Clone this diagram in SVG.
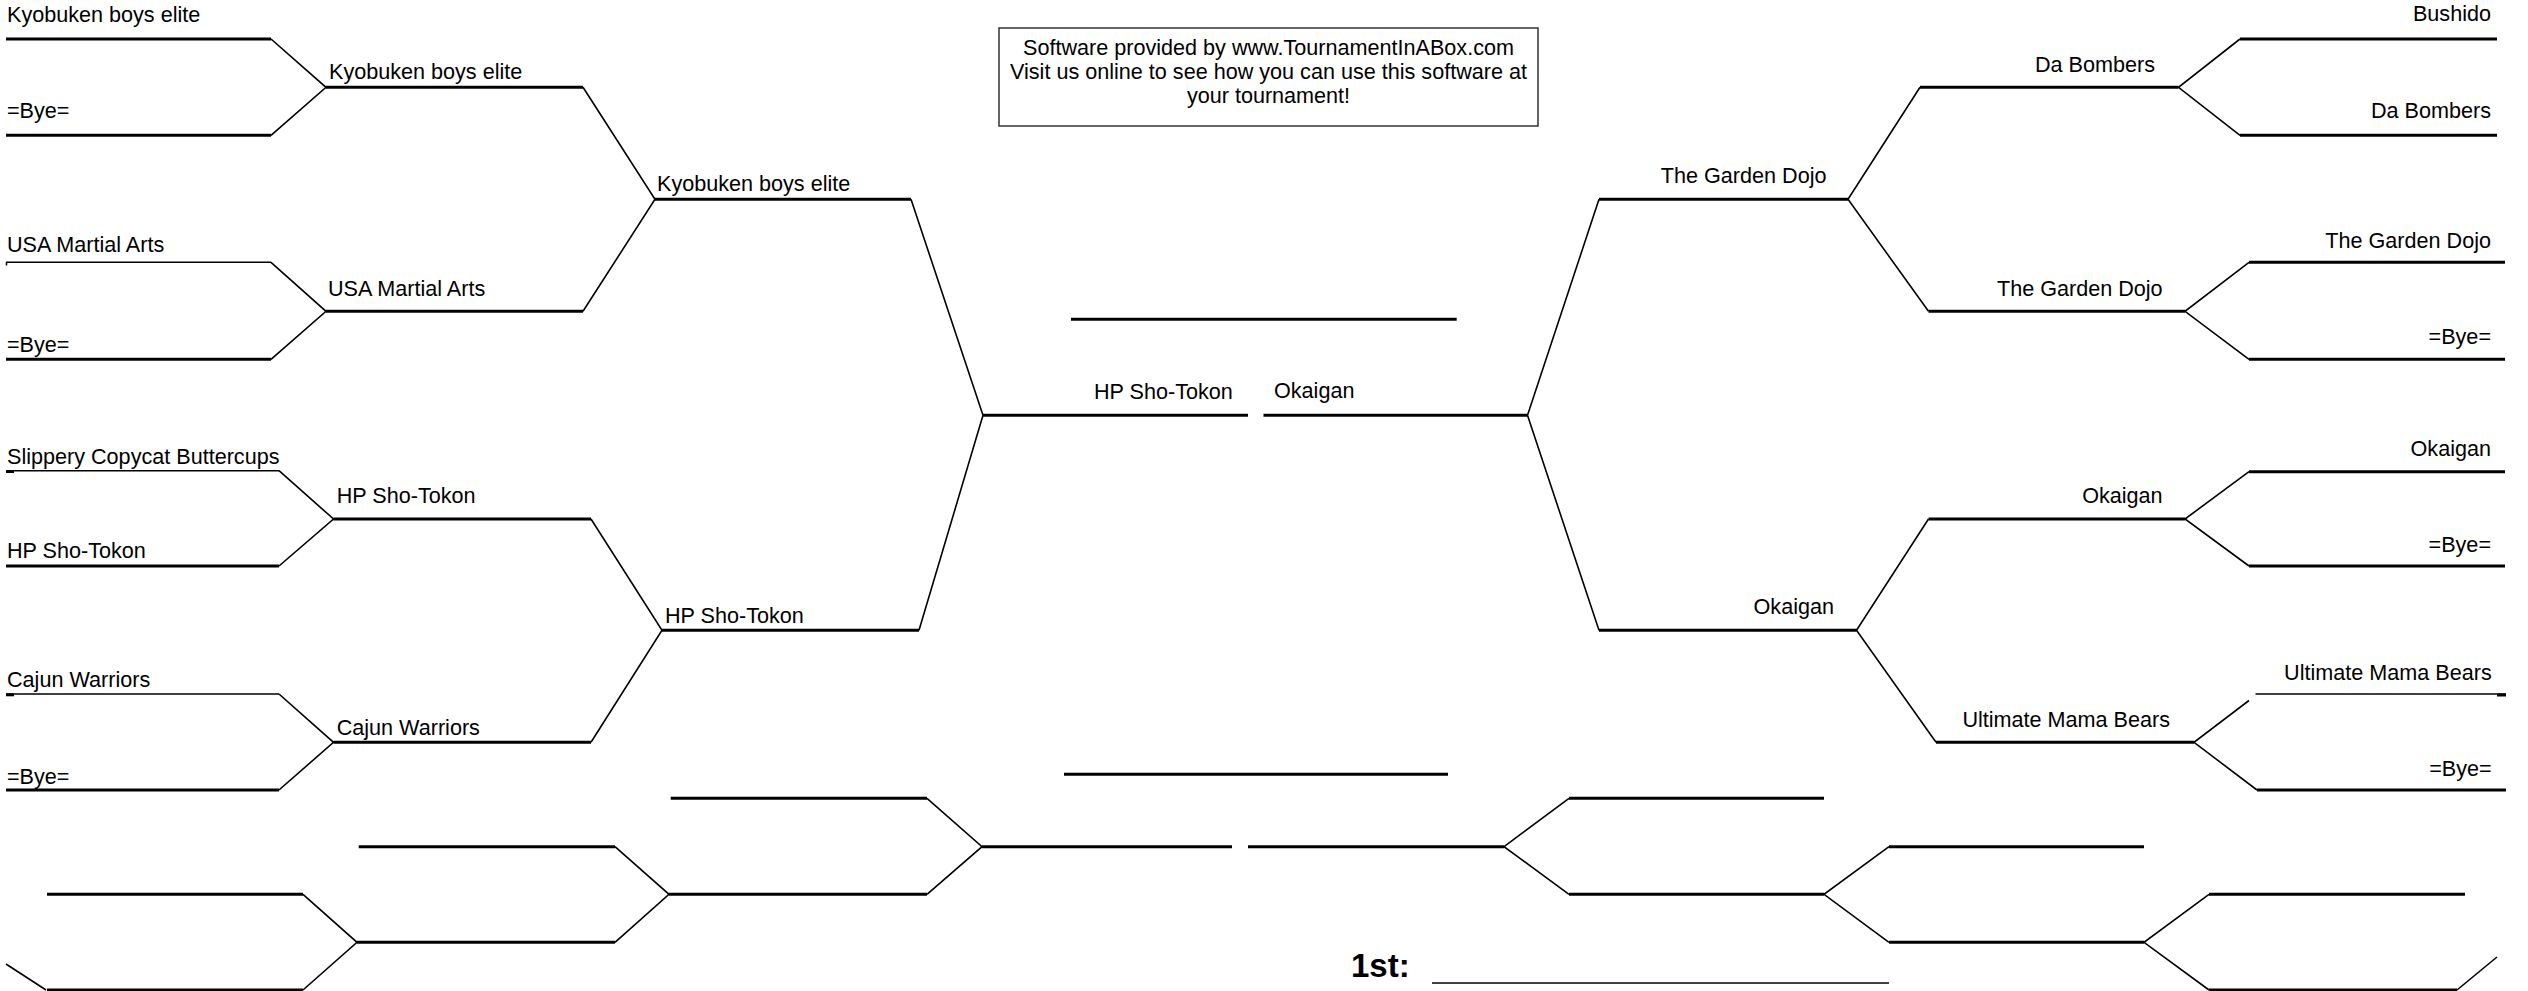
<svg xmlns="http://www.w3.org/2000/svg" width="2528" height="991" viewBox="0 0 2528 991">
<style>
.ln{stroke:#000;stroke-width:3;fill:none}
.th{stroke:#000;stroke-width:1.5;fill:none}
.cn{stroke:#000;stroke-width:1.6;fill:none}
.t{font-family:"Liberation Sans",Arial,sans-serif;font-size:21.6px;fill:#000}
.r{text-anchor:end}
.c{text-anchor:middle}
.b{font-family:"Liberation Sans",Arial,sans-serif;font-size:33px;font-weight:bold;fill:#000}
</style>
<rect width="2528" height="991" fill="#fff"/>

<g id="info-box">
<rect x="999" y="28" width="539" height="98" fill="none" stroke="#333" stroke-width="1.5"/>
<text class="t c" x="1268.5" y="55">Software provided by www.TournamentInABox.com</text>
<text class="t c" x="1268.5" y="79">Visit us online to see how you can use this software at</text>
<text class="t c" x="1268.5" y="103">your tournament!</text>
</g>

<!-- left round 1 -->
<g id="L1"><line class="ln" x1="6" y1="39" x2="271" y2="39"/><text class="t" x="7" y="22">Kyobuken boys elite</text></g>
<g id="L2"><line class="ln" x1="6" y1="135.3" x2="271" y2="135.3"/><text class="t" x="7" y="118">=Bye=</text></g>
<g id="L3"><line class="th" x1="6" y1="262.3" x2="271" y2="262.3"/><line class="th" x1="6.5" y1="262" x2="6.5" y2="265.5"/><text class="t" x="7" y="251.5">USA Martial Arts</text></g>
<g id="L4"><line class="ln" x1="6" y1="359.3" x2="271" y2="359.3"/><text class="t" x="7" y="352">=Bye=</text></g>
<g id="L5"><line class="th" x1="6" y1="470.7" x2="279" y2="470.7"/><line class="ln" x1="6" y1="471.5" x2="14" y2="471.5"/><text class="t" x="7" y="463.5">Slippery Copycat Buttercups</text></g>
<g id="L6"><line class="ln" x1="6" y1="566" x2="279" y2="566"/><text class="t" x="7" y="558">HP Sho-Tokon</text></g>
<g id="L7"><line class="th" x1="6" y1="694" x2="279" y2="694"/><line class="ln" x1="6" y1="694.8" x2="14" y2="694.8"/><text class="t" x="7" y="686.5">Cajun Warriors</text></g>
<g id="L8"><line class="ln" x1="6" y1="790" x2="279" y2="790"/><text class="t" x="7" y="783.5">=Bye=</text></g>

<!-- left round 2 -->
<g id="LR2a"><line class="ln" x1="326" y1="87.3" x2="583" y2="87.3"/><text class="t" x="329" y="79">Kyobuken boys elite</text></g>
<g id="LR2b"><line class="ln" x1="326" y1="311.3" x2="583" y2="311.3"/><text class="t" x="328" y="295.5">USA Martial Arts</text></g>
<g id="LR2c"><line class="ln" x1="333.5" y1="519" x2="591" y2="519"/><text class="t" x="336.7" y="502.5">HP Sho-Tokon</text></g>
<g id="LR2d"><line class="ln" x1="333.5" y1="742.3" x2="591" y2="742.3"/><text class="t" x="336.7" y="734.5">Cajun Warriors</text></g>

<!-- left round 3 -->
<g id="LR3a"><line class="ln" x1="655" y1="199.3" x2="911" y2="199.3"/><text class="t" x="657" y="190.5">Kyobuken boys elite</text></g>
<g id="LR3b"><line class="ln" x1="662" y1="630.3" x2="919" y2="630.3"/><text class="t" x="665" y="622.5">HP Sho-Tokon</text></g>

<!-- final -->
<g id="FL"><line class="ln" x1="983" y1="415.3" x2="1248" y2="415.3"/><text class="t" x="1094" y="398.5">HP Sho-Tokon</text></g>
<g id="FR"><line class="ln" x1="1263.5" y1="415.3" x2="1527.5" y2="415.3"/><text class="t" x="1274" y="398">Okaigan</text></g>
<g id="champion"><line class="ln" x1="1071" y1="319.3" x2="1456.7" y2="319.3"/></g>

<!-- right round 3 -->
<g id="RR3a"><line class="ln" x1="1599" y1="199.3" x2="1848" y2="199.3"/><text class="t r" x="1826.5" y="182.5">The Garden Dojo</text></g>
<g id="RR3b"><line class="ln" x1="1599" y1="630.3" x2="1856.5" y2="630.3"/><text class="t r" x="1834" y="613.5">Okaigan</text></g>

<!-- right round 2 -->
<g id="RR2a"><line class="ln" x1="1920" y1="87.3" x2="2178.5" y2="87.3"/><text class="t r" x="2155" y="72">Da Bombers</text></g>
<g id="RR2b"><line class="ln" x1="1928.5" y1="311.3" x2="2185" y2="311.3"/><text class="t r" x="2162.6" y="296">The Garden Dojo</text></g>
<g id="RR2c"><line class="ln" x1="1928.5" y1="519" x2="2185" y2="519"/><text class="t r" x="2162.6" y="502.5">Okaigan</text></g>
<g id="RR2d"><line class="ln" x1="1936" y1="742.3" x2="2194" y2="742.3"/><text class="t r" x="2170" y="726.5">Ultimate Mama Bears</text></g>

<!-- right round 1 -->
<g id="R1"><line class="ln" x1="2240" y1="39" x2="2497" y2="39"/><text class="t r" x="2491" y="21">Bushido</text></g>
<g id="R2"><line class="ln" x1="2240" y1="135.3" x2="2497" y2="135.3"/><text class="t r" x="2491" y="118">Da Bombers</text></g>
<g id="R3"><line class="ln" x1="2249" y1="262.3" x2="2505" y2="262.3"/><text class="t r" x="2491" y="248">The Garden Dojo</text></g>
<g id="R4"><line class="ln" x1="2249" y1="359.3" x2="2505" y2="359.3"/><text class="t r" x="2491" y="344">=Bye=</text></g>
<g id="R5"><line class="ln" x1="2249" y1="471.7" x2="2505" y2="471.7"/><text class="t r" x="2491" y="455.5">Okaigan</text></g>
<g id="R6"><line class="ln" x1="2249" y1="566" x2="2505" y2="566"/><text class="t r" x="2491" y="551.5">=Bye=</text></g>
<g id="R7"><line class="th" x1="2255.5" y1="694" x2="2506" y2="694"/><line class="ln" x1="2497" y1="695" x2="2506" y2="695"/><text class="t r" x="2491.7" y="679.5">Ultimate Mama Bears</text></g>
<g id="R8"><line class="ln" x1="2257" y1="790" x2="2506" y2="790"/><text class="t r" x="2491.7" y="775.5">=Bye=</text></g>

<!-- consolation bracket -->
<g id="third-place"><line class="ln" x1="1064" y1="774.3" x2="1448" y2="774.3"/></g>
<g id="CL1"><line class="ln" x1="670.7" y1="798.3" x2="927" y2="798.3"/></g>
<g id="CL2"><line class="ln" x1="982" y1="846.7" x2="1232" y2="846.7"/></g>
<g id="CL3"><line class="ln" x1="669" y1="894.3" x2="927" y2="894.3"/></g>
<g id="CL4"><line class="ln" x1="358.7" y1="846.7" x2="615" y2="846.7"/></g>
<g id="CL5"><line class="ln" x1="357" y1="942.3" x2="615" y2="942.3"/></g>
<g id="CL6"><line class="ln" x1="47" y1="894.3" x2="303" y2="894.3"/></g>
<g id="CL7"><line class="ln" x1="47" y1="990" x2="303" y2="990"/></g>
<g id="CR1"><line class="ln" x1="1569" y1="798.3" x2="1824" y2="798.3"/></g>
<g id="CR2"><line class="ln" x1="1248" y1="846.7" x2="1504" y2="846.7"/></g>
<g id="CR3"><line class="ln" x1="1569" y1="894.3" x2="1824" y2="894.3"/></g>
<g id="CR4"><line class="ln" x1="1889" y1="846.7" x2="2144" y2="846.7"/></g>
<g id="CR5"><line class="ln" x1="1889" y1="942.3" x2="2144" y2="942.3"/></g>
<g id="CR6"><line class="ln" x1="2209" y1="894.3" x2="2465" y2="894.3"/></g>
<g id="CR7"><line class="ln" x1="2209" y1="990" x2="2457" y2="990"/></g>

<g id="first-place">
<text class="b" x="1351" y="977">1st:</text>
<line class="th" x1="1432" y1="983" x2="1889" y2="983"/>
</g>

<g id="connectors">
<path class="cn" d="M271,39 L326,87.3 L271,135.3"/>
<path class="cn" d="M271,262.3 L326,311.3 L271,359.3"/>
<path class="cn" d="M279,470.7 L333.5,519 L279,566"/>
<path class="cn" d="M279,694 L333.5,742.3 L279,790"/>
<path class="cn" d="M583,87.3 L655,199.3 L583,311.3"/>
<path class="cn" d="M591,519 L662,630.3 L591,742.3"/>
<path class="cn" d="M911,199.3 L983,415.3 L919,630.3"/>
<path class="cn" d="M1599,199.3 L1527.5,415.3 L1599,630.3"/>
<path class="cn" d="M1920,87.3 L1848,199.3 L1928.5,311.3"/>
<path class="cn" d="M1928.5,519 L1856.5,630.3 L1936,742.3"/>
<path class="cn" d="M2240,39 L2178.5,87.3 L2240,135.3"/>
<path class="cn" d="M2249,262.3 L2185,311.3 L2249,359.3"/>
<path class="cn" d="M2249,471.7 L2185,519 L2249,566"/>
<path class="cn" d="M2249,700.5 L2194,742.3 L2257,790"/>
<path class="cn" d="M927,798.3 L982,846.7 L927,894.3"/>
<path class="cn" d="M615,846.7 L669,894.3 L615,942.3"/>
<path class="cn" d="M303,894.3 L357,942.3 L303,990"/>
<path class="cn" d="M6,964 L46,990"/>
<path class="cn" d="M1569,798.3 L1504,846.7 L1569,894.3"/>
<path class="cn" d="M1889,846.7 L1824,894.3 L1889,942.3"/>
<path class="cn" d="M2209,894.3 L2144,942.3 L2209,990"/>
<path class="cn" d="M2457,990 L2497,957"/>
</g>
</svg>
